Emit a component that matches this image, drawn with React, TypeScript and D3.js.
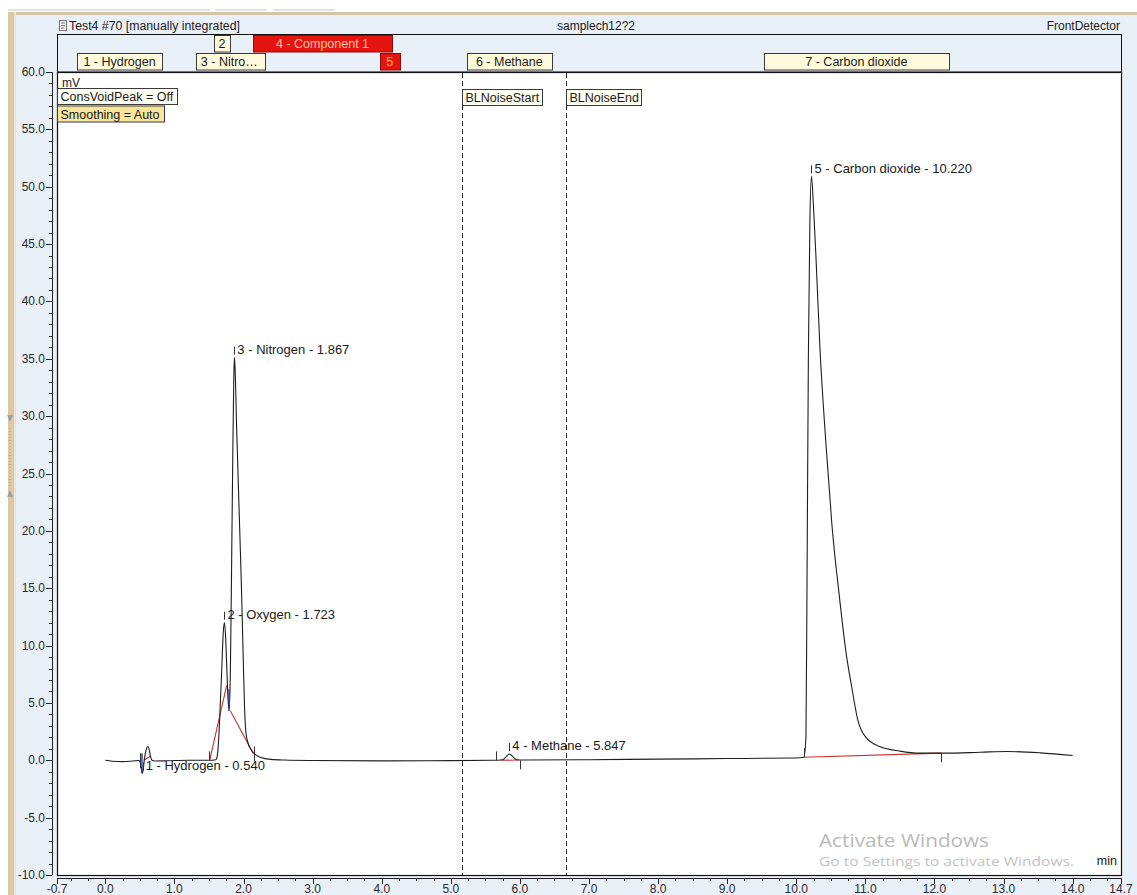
import React, { useEffect } from 'react';
import * as d3 from 'd3';

// ---------------- data ----------------
// chromatogram trace: [time (min), signal (mV)]
const chromatogram: [number, number][] = [
  [0.0, 0.0], [0.1, -0.08], [0.25, -0.12], [0.4, -0.06], [0.48, -0.02], [0.5, -0.1], [0.52, -0.6],
  [0.535, -1.15], [0.55, -0.7], [0.565, 0.1], [0.59, 0.9], [0.615, 1.2], [0.635, 0.9], [0.655, 0.3],
  [0.675, 0.0], [0.72, -0.06], [0.9, -0.04], [1.2, 0.0], [1.5, 0.0], [1.6, 0.05], [1.62, 0.4],
  [1.64, 1.8], [1.66, 4.4], [1.685, 8.0], [1.705, 11.0], [1.723, 12.0], [1.74, 10.8], [1.755, 8.5],
  [1.77, 6.0], [1.785, 4.6], [1.795, 4.5], [1.81, 8.0], [1.828, 17.4], [1.845, 27.0], [1.858, 33.0],
  [1.867, 35.1], [1.875, 34.5], [1.9, 29.0], [1.94, 21.0], [1.97, 15.0], [1.995, 9.0], [2.015, 4.5],
  [2.035, 2.4], [2.07, 1.4], [2.1, 1.0], [2.15, 0.6], [2.25, 0.25], [2.4, 0.08], [2.6, 0.02],
  [3.0, -0.02], [4.0, -0.05], [5.0, -0.03], [5.6, 0.0], [5.75, 0.05], [5.8, 0.3], [5.847, 0.55],
  [5.9, 0.3], [5.95, 0.05], [6.05, 0.02], [7.0, 0.05], [8.0, 0.1], [9.0, 0.15], [10.0, 0.2],
  [10.11, 0.27], [10.14, 2.0], [10.155, 15.0], [10.175, 35.0], [10.197, 47.0], [10.22, 50.9],
  [10.247, 48.5], [10.284, 44.0], [10.342, 36.0], [10.428, 27.7], [10.515, 20.6], [10.631, 13.9],
  [10.718, 9.5], [10.805, 6.3], [10.891, 3.5], [11.007, 2.0], [11.21, 1.2], [11.5, 0.8], [11.79, 0.62],
  [12.15, 0.62], [12.66, 0.7], [13.05, 0.77], [13.53, 0.65], [14.0, 0.42],
];

// integration baselines (red)
const baselines: [number, number][][] = [
  [[0.56, 0.0], [0.66, 0.4]],
  [[1.51, 0.0], [1.755, 6.5]],
  [[1.81, 4.3], [2.14, 0.62]],
  [[5.72, 0.0], [5.98, 0.02]],
  [[10.11, 0.27], [12.1, 0.62]],
];
// perpendicular drops (blue)
const drops: [number, number][][] = [
  [[0.53, 0.6], [0.53, -1.1]],
  [[1.79, 6.2], [1.79, 4.3]],
];
// peak delimiters: time, value, direction (1 up, -1 down, 0 both)
const delimTime = [0.5, 1.5, 2.15, 5.65, 6.0, 10.11, 12.1];
const delimValue = [0.0, 0.0, 0.6, 0.0, 0.0, 0.27, 0.62];
const delimDir = [0, 1, 0, 1, -1, 1, -1];

// peak labels
const peakNames = ['1 - Hydrogen - 0.540', '2 - Oxygen - 1.723', '3 - Nitrogen - 1.867', '4 - Methane - 5.847', '5 - Carbon dioxide - 10.220'];
const peakTimes = [0.54, 1.723, 1.867, 5.847, 10.22];
const peakApex = [-1.15, 12.0, 35.1, 0.55, 50.9];

// retention windows (header band)
const windowNames = ['1 - Hydrogen', '2', '3 - Nitro…', '4 - Component 1', '5', '6 - Methane', '7 - Carbon dioxide'];
const windowStart = [-0.41, 1.575, 1.31, 2.136, 3.97, 5.233, 9.53];
const windowEnd = [0.82, 1.8, 2.31, 4.15, 4.26, 6.46, 12.21];
const windowRow = [1, 0, 1, 0, 1, 1, 1];
const windowUnidentified = [false, false, false, true, true, false, false];

// events
const eventNames = ['BLNoiseStart', 'BLNoiseEnd'];
const eventTimes = [5.156, 6.662];

// axes
const xMajorTicks = [-0.7, 0, 1, 2, 3, 4, 5, 6, 7, 8, 9, 10, 11, 12, 13, 14, 14.7];
const xTickLabels = ['-0.7', '0.0', '1.0', '2.0', '3.0', '4.0', '5.0', '6.0', '7.0', '8.0', '9.0', '10.0', '11.0', '12.0', '13.0', '14.0', '14.7'];
const yMajorTicks = [60, 55, 50, 45, 40, 35, 30, 25, 20, 15, 10, 5, 0, -5, -10];
const yTickLabels = ['60.0', '55.0', '50.0', '45.0', '40.0', '35.0', '30.0', '25.0', '20.0', '15.0', '10.0', '5.0', '0.0', '-5.0', '-10.0'];

const infoLines = ['ConsVoidPeak = Off', 'Smoothing = Auto'];

// ---------------- layout ----------------
const W = 1137;
const H = 895;
const PL = 57;
const PR = 1121;
const PT = 72;
const PB = 875;
const FONT = '"Liberation Sans", Arial, sans-serif';

let measureCtx: CanvasRenderingContext2D | null = null;
function textWidth(s: string, size: number) {
  if (!measureCtx && typeof document !== 'undefined') {
    measureCtx = document.createElement('canvas').getContext('2d');
  }
  if (!measureCtx) return s.length * size * 0.55;
  measureCtx.font = `${size}px "Liberation Sans"`;
  return measureCtx.measureText(s).width;
}

export default function App() {
  useEffect(() => {
    document.body.style.margin = '0';
  }, []);

  const x = d3.scaleLinear().domain([-0.7, 14.7]).range([PL, PR]);
  const y = d3.scaleLinear().domain([-10, 60]).range([PB, PT]);
  const line = d3
    .line<[number, number]>()
    .x((d) => x(d[0]))
    .y((d) => y(d[1]))
    .curve(d3.curveMonotoneX);
  const seg = d3
    .line<[number, number]>()
    .x((d) => x(d[0]))
    .y((d) => y(d[1]));

  const minorX = d3.range(-0.5, 14.6, 0.25).filter((v) => Math.abs(v - Math.round(v)) > 1e-6);
  const minorY = d3.range(-10, 61, 1).filter((v) => v % 5 !== 0);

  const xAxisY = 878;
  const yAxisX = 52;
  const rowTop = [35.5, 53.5];
  const rowH = 16.5;

  return (
    <div style={{ position: 'absolute', left: 0, top: 0 }}>
      <svg width={W} height={H} style={{ display: 'block', fontFamily: FONT }}>
        {/* window chrome */}
        <rect x={0} y={0} width={W} height={H} fill="#ffffff" />
        <rect x={8} y={9} width={202} height={2} fill="#dfe4ea" />
        <rect x={215} y={9} width={52} height={2} fill="#dfe4ea" />
        <rect x={273} y={9} width={62} height={2} fill="#dfe4ea" />
        <rect x={15} y={15} width={W - 15} height={H - 15} fill="#eaf0f8" />
        <rect x={8} y={12} width={W - 8} height={3} fill="#d6c4a6" />
        <rect x={8} y={12} width={6} height={H - 12} fill="#dcc7a6" />
        <rect x={14} y={12} width={2} height={H - 12} fill="#efe3cf" />
        <path d="M7,415 L13,415 L10,422 Z" fill="#9aa0a8" />
        {d3.range(428, 488, 3).map((v) => (
          <rect key={'sp' + v} x={9.5} y={v} width={1} height={1} fill="#9aa0a8" />
        ))}
        <path d="M7,497 L13,497 L10,490 Z" fill="#9aa0a8" />

        {/* title line */}
        <rect x={59.5} y={20.5} width={7} height={10} fill="#f4f4f4" stroke="#777" />
        <path d="M61,23 H65 M61,25.5 H65 M61,28 H64" stroke="#777" />
        <text x={69} y={26} dominantBaseline="central" fontSize={12.3} fill="#1a1a1a">
          Test4 #70 [manually integrated]
        </text>
        <text x={596} y={26} dominantBaseline="central" textAnchor="middle" fontSize={12} fill="#1a1a1a">
          samplech12?2
        </text>
        <text x={1120} y={26} dominantBaseline="central" textAnchor="end" fontSize={12} fill="#1a1a1a">
          FrontDetector
        </text>

        {/* header band */}
        <rect x={PL + 0.5} y={34.5} width={PR - PL} height={PT - 34.5} fill="#eaf0f8" stroke="#111" strokeWidth={1} />
        {windowNames.map((n, i) => {
          const x0 = x(windowStart[i]);
          const x1 = x(windowEnd[i]);
          const top = rowTop[windowRow[i]];
          const red = windowUnidentified[i];
          const truncated = n.endsWith('…');
          return (
            <g key={'w' + i}>
              <rect
                x={Math.round(x0) + 0.5}
                y={top}
                width={Math.round(x1 - x0)}
                height={rowH}
                fill={red ? '#e5140f' : '#fffbdc'}
                stroke={red ? '#8c0a0a' : '#3a3a3a'}
              />
              <text
                x={truncated ? x0 + 5 : (x0 + x1) / 2}
                y={top + rowH / 2 + 0.5}
                textAnchor={truncated ? 'start' : 'middle'}
                dominantBaseline="central"
                fontSize={12.5}
                fill={red ? (n.length > 2 ? '#ffc2a6' : '#ffb350') : '#1a1a1a'}
              >
                {n}
              </text>
            </g>
          );
        })}

        {/* plot area */}
        <rect x={PL + 0.5} y={PT + 0.5} width={PR - PL} height={PB - PT} fill="#ffffff" stroke="#111" strokeWidth={1.2} />

        {/* watermark */}
        <text x={819} y={847} fontSize={18} fill="#b9b9b9" textLength={170} lengthAdjust="spacingAndGlyphs" fontFamily='"Open Sans", "Noto Sans", sans-serif'>
          Activate Windows
        </text>
        <text x={819} y={866} fontSize={13.5} fill="#c2c2c2" textLength={255} lengthAdjust="spacingAndGlyphs" fontFamily='"Open Sans", "Noto Sans", sans-serif'>
          Go to Settings to activate Windows.
        </text>

        <text x={62} y={83} dominantBaseline="central" fontSize={12} fill="#1a1a1a">
          mV
        </text>
        <text x={1117} y={861} dominantBaseline="central" textAnchor="end" fontSize={12.5} fill="#1a1a1a">
          min
        </text>

        {/* info boxes */}
        {infoLines.map((s, i) => {
          const w = textWidth(s, 12.5) + 7;
          const top = 88.5 + i * 17.5;
          return (
            <g key={'info' + i}>
              <rect x={PL + 0.5} y={top} width={Math.round(w)} height={16} fill={i === 0 ? '#fffff4' : '#f8e69c'} stroke="#3a3a3a" />
              <text x={PL + 3.5} y={top + 8.5} dominantBaseline="central" fontSize={12.5} fill="#1a1a1a">
                {s}
              </text>
            </g>
          );
        })}

        {/* events */}
        {eventNames.map((n, i) => {
          const ex = Math.round(x(eventTimes[i])) + 0.5;
          const w = textWidth(n, 12.5) + 6;
          return (
            <g key={'ev' + i}>
              <line x1={ex} x2={ex} y1={PT + 1} y2={PB} stroke="#222" strokeDasharray="5,3" />
              <rect x={ex} y={89.5} width={Math.round(w)} height={16} fill="#fffff2" stroke="#3a3a3a" />
              <text x={ex + 3} y={98} dominantBaseline="central" fontSize={12.5} fill="#1a1a1a">
                {n}
              </text>
            </g>
          );
        })}

        {/* baselines */}
        {baselines.map((b, i) => (
          <path key={'bl' + i} d={seg(b) || ''} fill="none" stroke="#c8302c" strokeWidth={1.1} />
        ))}

        {/* trace */}
        <path d={line(chromatogram) || ''} fill="none" stroke="#1e1e1e" strokeWidth={1.1} strokeLinejoin="round" />

        {/* drops */}
        {drops.map((b, i) => (
          <path key={'dr' + i} d={seg(b) || ''} fill="none" stroke="#2a34a8" strokeWidth={1.4} />
        ))}

        {/* delimiters */}
        {delimTime.map((t, i) => {
          const dx = Math.round(x(t)) + 0.5;
          const dy = y(delimValue[i]);
          const dir = delimDir[i];
          const y1 = dir === 0 ? dy - 7 : dir === 1 ? dy - 9 : dy;
          const y2 = dir === 0 ? dy + 8 : dir === 1 ? dy : dy + 9;
          return <line key={'dl' + i} x1={dx} x2={dx} y1={y1} y2={y2} stroke="#333" strokeWidth={1} />;
        })}

        {/* peak labels */}
        {peakNames.map((n, i) => {
          const px = x(peakTimes[i]);
          const py = y(peakApex[i]);
          return (
            <g key={'pk' + i}>
              <line x1={Math.round(px) + 0.5} x2={Math.round(px) + 0.5} y1={py - 3} y2={py - 11} stroke="#333" />
              <text x={px + 3} y={py - 8} dominantBaseline="central" fontSize={13} fill="#1a1a1a">
                {n}
              </text>
            </g>
          );
        })}

        {/* y axis */}
        <line x1={yAxisX + 0.5} x2={yAxisX + 0.5} y1={PT} y2={PB} stroke="#222" />
        {minorY.map((v) => (
          <line key={'my' + v} x1={yAxisX - 3} x2={yAxisX} y1={Math.round(y(v)) + 0.5} y2={Math.round(y(v)) + 0.5} stroke="#333" />
        ))}
        {yMajorTicks.map((v, i) => (
          <g key={'Y' + v}>
            <line x1={yAxisX - 6} x2={yAxisX} y1={Math.round(y(v)) + 0.5} y2={Math.round(y(v)) + 0.5} stroke="#222" />
            <text x={45} y={y(v)} textAnchor="end" dominantBaseline="central" fontSize={12} fill="#2a2a2a">
              {yTickLabels[i]}
            </text>
          </g>
        ))}

        {/* x axis */}
        <line x1={PL} x2={PR + 1} y1={xAxisY + 0.5} y2={xAxisY + 0.5} stroke="#222" />
        {minorX.map((v) => (
          <line key={'mx' + v} x1={Math.round(x(v)) + 0.5} x2={Math.round(x(v)) + 0.5} y1={xAxisY} y2={xAxisY + 3} stroke="#333" />
        ))}
        {xMajorTicks.map((v, i) => (
          <g key={'X' + v}>
            <line x1={Math.round(x(v)) + 0.5} x2={Math.round(x(v)) + 0.5} y1={xAxisY} y2={xAxisY + 6} stroke="#222" />
            <text x={x(v)} y={893} textAnchor="middle" fontSize={12} fill="#2a2a2a">
              {xTickLabels[i]}
            </text>
          </g>
        ))}
      </svg>
    </div>
  );
}
